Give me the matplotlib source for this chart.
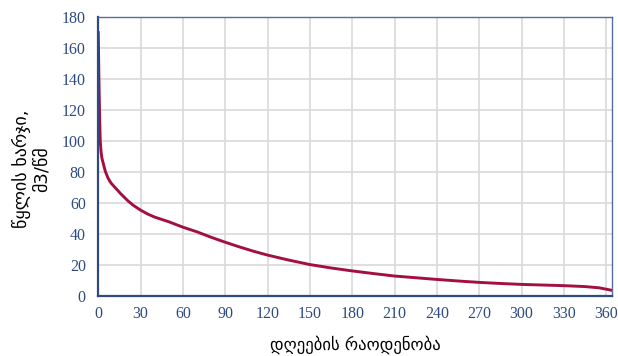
import matplotlib.pyplot as plt

# flow duration curve (days vs discharge, m3/s)
days = [0, 0.5, 1, 1.4, 2, 2.6, 4, 5, 7, 9, 12, 16, 21, 25, 30, 35, 40, 50,
        60, 70, 80, 90, 100, 110, 120, 135, 150, 165, 180, 195, 210, 225, 240,
        255, 270, 285, 300, 315, 330, 345, 355, 364]
flow = [170, 138, 114, 100, 93, 89, 84, 80.5, 76, 73, 70, 66, 61.5, 58.5,
        55.5, 53, 51, 48, 44.5, 41.5, 38, 34.8, 31.8, 29, 26.5, 23.3, 20.4,
        18.2, 16.3, 14.6, 13, 11.9, 10.8, 9.8, 8.9, 8.2, 7.6, 7.2, 6.8, 6.2,
        5.4, 3.8]

xticks = list(range(0, 361, 30))
yticks = list(range(0, 181, 20))

tick_color = "#2E4A80"
line_color = "#A3103F"

fig, ax = plt.subplots(figsize=(6.18, 3.56), dpi=100)
fig.subplots_adjust(left=0.159, right=0.99, top=0.952, bottom=0.168)

ax.plot(days, flow, color=line_color, lw=2.1)

ax.set_xlim(0, 364)
ax.set_ylim(0, 180)
ax.set_xticks(xticks)
ax.set_yticks(yticks)
ax.grid(True, color="#D9D9D9", lw=1.2)
ax.set_axisbelow(True)

for s in ax.spines.values():
    s.set_color("#5A6C98")
    s.set_linewidth(1)
ax.spines["left"].set_color(tick_color)
ax.spines["bottom"].set_color(tick_color)
ax.spines["left"].set_linewidth(1.6)
ax.spines["bottom"].set_linewidth(1.6)

ax.tick_params(length=0, labelcolor=tick_color, labelsize=11.5)
ax.tick_params(axis="y", pad=9)
ax.tick_params(axis="x", pad=7)
for lab in ax.get_xticklabels() + ax.get_yticklabels():
    lab.set_family("Liberation Serif")

ax.set_xlabel("დღეების რაოდენობა", fontsize=12, family="DejaVu Sans",
              labelpad=10)
ax.set_ylabel("წყლის ხარჯი,\nმ3/წმ", fontsize=13, family="DejaVu Sans",
              linespacing=1.1)
ax.yaxis.set_label_coords(-0.093, 0.455)

fig.savefig("out.png", dpi=100)
